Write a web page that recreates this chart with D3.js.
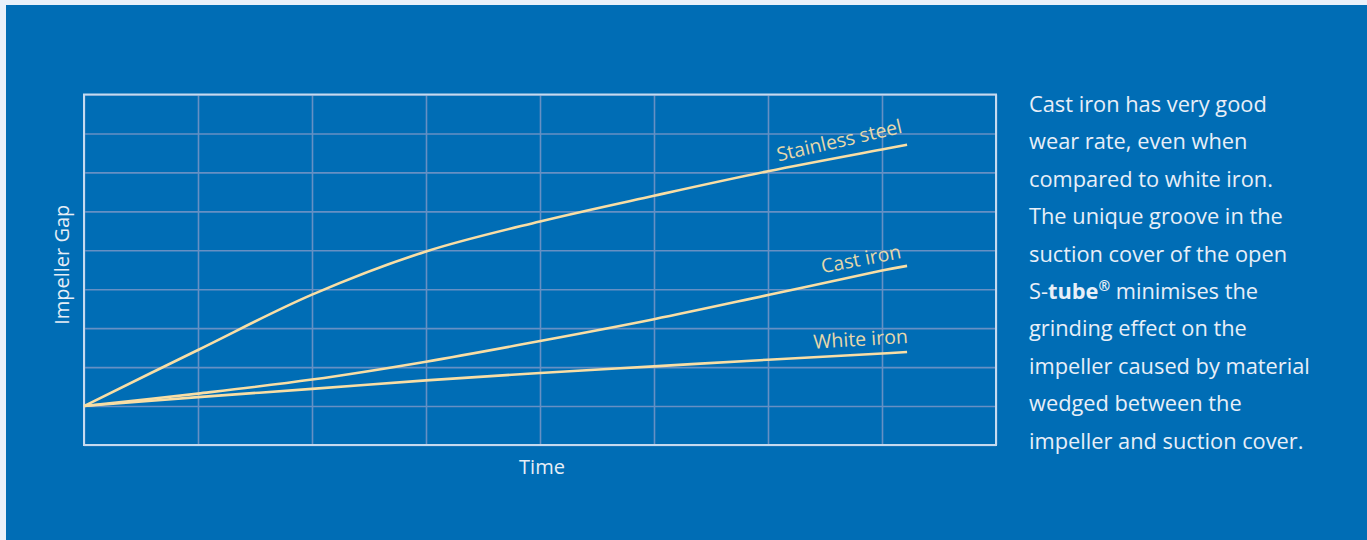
<!DOCTYPE html>
<html>
<head>
<meta charset="utf-8">
<script src="https://cdn.jsdelivr.net/npm/d3@7"></script>
<style>
  html, body { margin: 0; padding: 0; background: #e9f1fa; }
  svg { display: block; }
</style>
</head>
<body>
<svg id="chart" width="1367" height="540"></svg>
<script>
// ---- data ----
const timeValues   = [0, 1, 2, 3, 4, 5, 6, 7, 7.22];
const stainless    = [1, 2.44, 3.86, 4.97, 5.74, 6.40, 7.03, 7.59, 7.71];
const castIron     = [1, 1.32, 1.68, 2.14, 2.67, 3.23, 3.85, 4.48, 4.60];
const whiteIron    = [1, 1.23, 1.44, 1.66, 1.85, 2.02, 2.19, 2.35, 2.39];
const seriesNames  = ["Stainless steel", "Cast iron", "White iron"];
const xTickValues  = [0, 1, 2, 3, 4, 5, 6, 7, 8];
const yTickValues  = [0, 1, 2, 3, 4, 5, 6, 7, 8, 9];
const xTitle = "Time";
const yTitle = "Impeller Gap";
const paragraph = [
  ["Cast iron has very good"],
  ["wear rate, even when"],
  ["compared to white iron."],
  ["The unique groove in the"],
  ["suction cover of the open"],
  ["S-", "tube", "®", " minimises the"],
  ["grinding effect on the"],
  ["impeller caused by material"],
  ["wedged between the"],
  ["impeller and suction cover."]
];

// ---- layout ----
const svg = d3.select("#chart");
const W = 1367, H = 540;
const blue = "#006db5";
const lineColor = "#f8dea5";
const labelColor = "#e6d8ab";
const gridColor = "#6690c4";
const frameColor = "#c5daef";
const font = "'Open Sans', 'Noto Sans', sans-serif";

svg.append("rect").attr("x", 6).attr("y", 5).attr("width", W - 6).attr("height", H - 5).attr("fill", blue);

const plot = { left: 84, right: 996, top: 94.5, bottom: 445 };
const x = d3.scaleLinear().domain([0, 8]).range([plot.left, plot.right]);
const y = d3.scaleLinear().domain([0, 9]).range([plot.bottom, plot.top]);

// grid via axes
const gx = svg.append("g").attr("transform", `translate(0,${plot.bottom})`)
  .call(d3.axisBottom(x).tickValues(xTickValues).tickSize(-(plot.bottom - plot.top)).tickFormat(""));
const gy = svg.append("g").attr("transform", `translate(${plot.left},0)`)
  .call(d3.axisLeft(y).tickValues(yTickValues).tickSize(-(plot.right - plot.left)).tickFormat(""));
[gx, gy].forEach(g => {
  g.select(".domain").remove();
  g.selectAll(".tick line").attr("stroke", gridColor).attr("stroke-width", 1.6);
});

// frame
svg.append("rect")
  .attr("x", plot.left).attr("y", plot.top)
  .attr("width", plot.right - plot.left).attr("height", plot.bottom - plot.top)
  .attr("fill", "none").attr("stroke", frameColor).attr("stroke-width", 2);

// lines
const allSeries = [stainless, castIron, whiteIron];
const line = d3.line().x((d, i) => x(timeValues[i])).y(d => y(d)).curve(d3.curveCatmullRom.alpha(0.5));
svg.append("g").selectAll("path").data(allSeries).join("path")
  .attr("d", d => line(d))
  .attr("fill", "none").attr("stroke", lineColor).attr("stroke-width", 2.6)
  .attr("stroke-linecap", "butt");

// series labels near line ends
const labelStyle = [
  { dx: -4, dy: -12, rot: -13 },
  { dx: -5, dy: -8, rot: -11 },
  { dx: 1, dy: -9, rot: -3.5 }
];
svg.append("g").selectAll("text").data(seriesNames).join("text")
  .attr("transform", (d, i) => {
    const s = allSeries[i];
    const px = x(timeValues[timeValues.length - 1]) + labelStyle[i].dx;
    const py = y(s[s.length - 1]) + labelStyle[i].dy;
    return `translate(${px},${py}) rotate(${labelStyle[i].rot})`;
  })
  .attr("text-anchor", "end")
  .attr("font-family", font).attr("font-size", 19.5)
  .attr("fill", labelColor)
  .text(d => d);

// axis titles
svg.append("text")
  .attr("x", (plot.left + plot.right) / 2 + 2).attr("y", 474)
  .attr("text-anchor", "middle")
  .attr("font-family", font).attr("font-size", 20).attr("fill", "#e6eef7")
  .text(xTitle);
svg.append("text")
  .attr("transform", `translate(69,${(plot.top + plot.bottom) / 2 - 5}) rotate(-90)`)
  .attr("text-anchor", "middle")
  .attr("font-family", font).attr("font-size", 20).attr("fill", "#e6eef7")
  .text(yTitle);

// paragraph
const para = svg.append("text")
  .attr("font-family", font).attr("font-size", 21.8).attr("fill", "#e8eff8");
paragraph.forEach((parts, i) => {
  const ly = 112 + i * 37.4;
  if (parts.length === 1) {
    para.append("tspan").attr("x", 1029).attr("y", ly).text(parts[0]);
  } else {
    para.append("tspan").attr("x", 1029).attr("y", ly).text(parts[0]);
    para.append("tspan").attr("font-weight", "bold").text(parts[1]);
    para.append("tspan").attr("font-weight", "bold").attr("font-size", 14).attr("dy", -8).text(parts[2]);
    para.append("tspan").attr("dy", 8).text(parts[3]);
  }
});
</script>
</body>
</html>
